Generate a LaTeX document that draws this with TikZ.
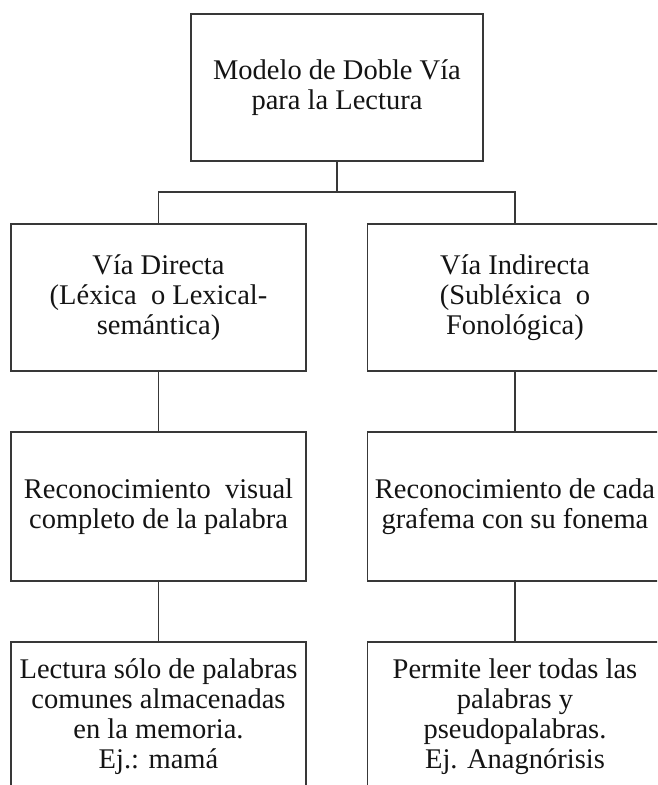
\documentclass[tikz,border=0pt]{standalone}
\usepackage{fontspec}
\setmainfont{Liberation Serif}
\begin{document}
\begin{tikzpicture}[x=1pt,y=-1pt,
  box/.style={draw=black!78,line width=1.4pt,rectangle,align=center,inner sep=0pt,
    font=\fontsize{28.5}{30}\selectfont,text=black!92},
  link/.style={draw=black!78,line width=1.4pt}]
\clip (0,0) rectangle (657,785);
\fill[white] (0,0) rectangle (657,785);
% top
\node[box,minimum width=292pt,minimum height=147pt] (top) at (337,87.5)
  {Modelo de Doble Vía\\para la Lectura};
% row 2
\node[box,minimum width=295pt,minimum height=147pt] (l2) at (158.5,297.5)
  {Vía Directa\\(Léxica\ \ o Lexical-\\semántica)};
\node[box,minimum width=295pt,minimum height=147pt] (r2) at (515,297.5)
  {Vía Indirecta\\(Subléxica\ \ o\\Fonológica)};
% row 3
\node[box,minimum width=295pt,minimum height=149pt] (l3) at (158.5,506.5)
  {Reconocimiento\ \ visual\\completo\ de la palabra};
\node[box,minimum width=295pt,minimum height=149pt] (r3) at (515,506.5)
  {Reconocimiento\ de cada\\grafema\ con su fonema};
% row 4
\node[box,minimum width=295pt,minimum height=150pt] (l4) at (158.5,717)
  {Lectura sólo de palabras\\comunes almacenadas\\en la memoria.\\Ej.: mamá};
\node[box,minimum width=295pt,minimum height=150pt] (r4) at (515,717)
  {Permite leer todas las\\palabras y\\pseudopalabras.\\Ej. Anagnórisis};
% connectors
\coordinate (bar) at (337,192);
\draw[link] (top.south) -- (bar);
\draw[link] (l2.north) |- (bar) -| (r2.north);
\draw[link] (l2.south) -- (l3.north);
\draw[link] (r2.south) -- (r3.north);
\draw[link] (l3.south) -- (l4.north);
\draw[link] (r3.south) -- (r4.north);
\end{tikzpicture}
\end{document}
